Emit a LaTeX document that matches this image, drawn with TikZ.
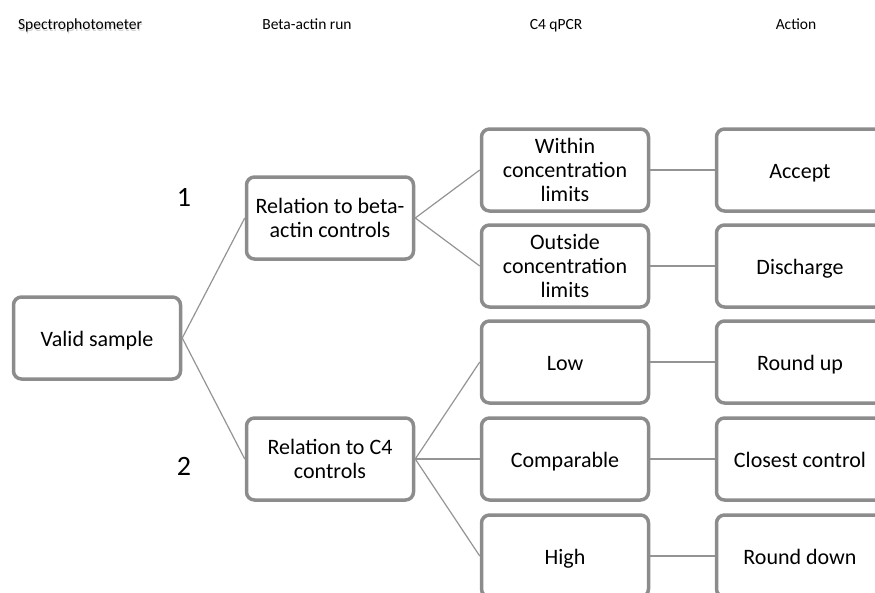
\documentclass[tikz,border=0pt]{standalone}
\usepackage{fontspec}
\setmainfont{Carlito}
\begin{document}
\begin{tikzpicture}[x=1pt,y=-1pt,
  box/.style={draw=black!45,line width=3.5pt,rounded corners=8pt,fill=white,
    minimum width=167pt,minimum height=82pt,align=center,inner sep=2pt,
    font=\fontsize{22}{24}\selectfont},
  single/.style={box,text height=20pt,text depth=4pt},
  conn/.style={draw=black!42,line width=1.2pt},
  head/.style={font=\fontsize{15.5}{18}\selectfont,text height=11pt,text depth=3pt},
  num/.style={font=\fontsize{28}{30}\selectfont}]
\useasboundingbox (0,0) rectangle (875,592);
\clip (0,0) rectangle (875,592);
% headers
\node[head] (h1) at (80,25) {\rlap{\kern0.8pt\raisebox{-2pt}{\color{black!18}Spectrophotometer}}Spectrophotometer};
\node[head] (h2) at (307,25) {Beta-actin run};
\node[head] (h3) at (556,25) {C4 qPCR};
\node[head] (h4) at (796,25) {Action};
% numbers
\node[num] (n1) at (184,197) {1};
\node[num] (n2) at (184,466) {2};
% boxes
\node[single] (valid) at (97,338) {Valid sample};
\node[box] (beta) at (330,218) {Relation to beta-\\actin controls};
\node[box] (c4) at (330,459) {Relation to C4\\controls};
\node[box] (within) at (565,170) {Within\\concentration\\limits};
\node[box] (outside) at (565,266) {Outside\\concentration\\limits};
\node[single] (low) at (565,362) {Low};
\node[single] (comp) at (565,459) {Comparable};
\node[single] (high) at (565,556) {High};
\node[single] (accept) at (800,170) {Accept};
\node[single] (disch) at (800,266) {Discharge};
\node[single] (rup) at (800,362) {Round up};
\node[single] (close) at (800,459) {Closest control};
\node[single] (rdown) at (800,556) {Round down};
% connectors
\draw[conn] (valid.east) -- (beta.west);
\draw[conn] (valid.east) -- (c4.west);
\draw[conn] (beta.east) -- (within.west);
\draw[conn] (beta.east) -- (outside.west);
\draw[conn] (c4.east) -- (low.west);
\draw[conn] (c4.east) -- (comp.west);
\draw[conn] (c4.east) -- (high.west);
\draw[conn] (within.east) -- (accept.west);
\draw[conn] (outside.east) -- (disch.west);
\draw[conn] (low.east) -- (rup.west);
\draw[conn] (comp.east) -- (close.west);
\draw[conn] (high.east) -- (rdown.west);
\end{tikzpicture}
\end{document}
